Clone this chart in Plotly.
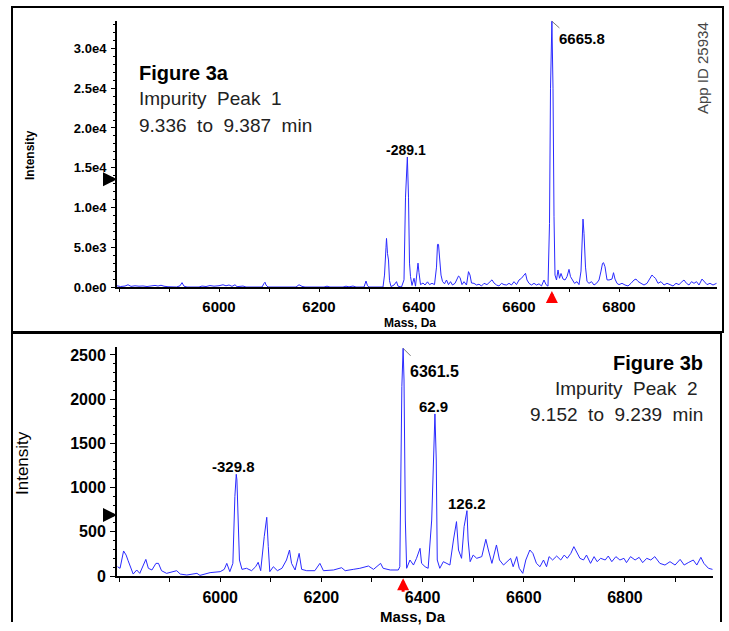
import plotly.graph_objects as go

# ---------------- data ----------------
mass_a = [5796, 5803, 5812, 5818, 5824, 5832, 5840, 5848, 5856, 5864, 5872, 5878, 5884, 5890, 5898,
          5915, 5922, 5926, 5930, 5936, 5960, 5966, 5974, 5982, 5990, 6000, 6008, 6014, 6020, 6026,
          6032, 6036, 6048, 6054, 6086, 6090, 6092, 6094, 6098, 6154, 6160, 6166, 6172, 6210, 6216,
          6222, 6248, 6254, 6260, 6268, 6274, 6290, 6292, 6294, 6297, 6300, 6328, 6331, 6334, 6335,
          6337, 6339, 6341, 6344, 6350, 6355, 6358, 6365, 6370, 6373, 6376.7, 6379, 6381, 6383, 6386,
          6390, 6393, 6396, 6398, 6400, 6403, 6408, 6412, 6417, 6421, 6426, 6431, 6435, 6437, 6439,
          6441, 6444, 6447, 6451, 6455, 6459, 6463, 6467, 6472, 6476, 6479, 6482, 6486, 6490, 6495,
          6499, 6502, 6505, 6510, 6515, 6520, 6525, 6530, 6536, 6542, 6546, 6550, 6555, 6560, 6565,
          6570, 6575, 6580, 6585, 6590, 6595, 6600, 6605, 6610, 6613, 6616, 6620, 6625, 6630, 6635,
          6640, 6645, 6650, 6654, 6658, 6661, 6663, 6665.8, 6668, 6670, 6672, 6675, 6678, 6681, 6684,
          6688, 6692, 6696, 6700, 6703, 6707, 6711, 6716, 6720, 6724, 6726, 6728, 6730, 6733, 6736,
          6740, 6745, 6750, 6755, 6760, 6764, 6767, 6769, 6772, 6776, 6780, 6786, 6789, 6792, 6796,
          6800, 6806, 6812, 6818, 6824, 6830, 6834, 6838, 6844, 6850, 6856, 6862, 6866, 6869, 6873,
          6878, 6884, 6890, 6896, 6902, 6908, 6914, 6920, 6926, 6930, 6935, 6940, 6945, 6950, 6955,
          6960, 6966, 6970, 6976, 6982, 6988, 6995]
intensity_a = [150, 60, 120, 280, 80, 150, 100, 130, 60, 150, 200, 120, 220, 100, 30,
               0, 150, 550, 100, 0, 0, 120, 60, 180, 100, 160, 280, 150, 250, 80,
               280, 40, 120, 0, 0, 450, 600, 250, 0, 0, 280, 80, 0, 0, 100,
               0, 0, 100, 20, 120, 0, 0, 600, 750, 150, 0, 0, 1500, 5000, 6110,
               4200, 3400, 800, 50, 250, 670, 100, 0, 900, 11300, 16350, 11300, 3000, 1300, 200,
               1100, 100, 1500, 3000, 1800, 300, 500, 250, 650, 300, 460, 300, 2500, 5360, 5360,
               3400, 1500, 700, 400, 880, 300, 670, 250, 460, 1100, 1380, 1200, 300, 670, 250,
               1930, 1500, 500, 460, 250, 350, 130, 460, 300, 700, 900, 500, 250, 130, 460,
               300, 250, 460, 250, 670, 300, 880, 1100, 1500, 1720, 880, 460, 250, 460, 250,
               400, 130, 880, 300, 100, 8000, 25000, 33420, 25000, 8830, 1500, 880, 2140, 1100, 1700,
               1000, 880, 1300, 2220, 1300, 880, 460, 670, 300, 2000, 6740, 8540, 6740, 2500, 700,
               460, 670, 250, 460, 880, 2000, 2970, 3060, 2550, 900, 880, 1000, 1800, 1000, 460,
               300, 460, 250, 130, 460, 880, 1000, 700, 460, 250, 460, 1000, 1510, 1300, 1090,
               460, 670, 250, 460, 300, 130, 460, 300, 670, 880, 460, 250, 670, 460, 670,
               250, 1000, 700, 300, 460, 250, 460]

mass_b = [5797, 5802, 5809, 5814, 5818, 5822, 5828, 5835, 5841, 5853, 5858, 5865, 5873, 5878, 5884,
          5894, 5904, 5914, 5921, 5934, 5954, 5960, 5980, 6000, 6008, 6013, 6019, 6025, 6029, 6031.7,
          6033, 6035, 6038, 6043, 6052, 6062, 6070, 6075, 6080, 6087, 6092, 6095, 6098, 6105, 6113,
          6122, 6131, 6137, 6141, 6148, 6156, 6161, 6171, 6187, 6197, 6204, 6224, 6240, 6247, 6263,
          6276, 6293, 6303, 6317, 6322, 6336, 6352, 6355, 6359, 6361.5, 6363.3, 6365.9, 6368.5, 6375, 6382,
          6388, 6395, 6398, 6405, 6411, 6418, 6424.4, 6427, 6429, 6434, 6441, 6448, 6454, 6461, 6467,
          6471, 6477, 6482, 6487.7, 6490, 6494, 6500, 6507, 6517, 6525, 6530, 6537, 6546, 6552, 6560,
          6566, 6574, 6579, 6586, 6591, 6598, 6604, 6612, 6618, 6625, 6632, 6639, 6645, 6650, 6657,
          6665, 6673, 6680, 6686, 6693, 6699, 6705, 6711, 6718, 6724, 6732, 6739, 6745, 6752, 6761,
          6767, 6774, 6782, 6790, 6798, 6803, 6811, 6820, 6828, 6835, 6843, 6851, 6859, 6869, 6879,
          6889, 6899, 6909, 6917, 6925, 6935, 6942, 6950, 6956, 6965, 6973]
intensity_b = [105, 87, 283, 237, 173, 105, 22, 68, 30, 188, 87, 68, 143, 143, 60,
               30, 49, 60, 22, 11, 30, 7, 38, 49, 75, 143, 49, 143, 900, 1150,
               1086, 709, 181, 75, 87, 60, 105, 155, 60, 445, 664, 332, 49, 105, 60,
               87, 181, 294, 143, 68, 256, 75, 60, 60, 143, 60, 68, 94, 60, 75,
               87, 113, 75, 143, 87, 68, 68, 105, 2142, 2575, 2217, 633, 87, 181, 124,
               200, 313, 143, 105, 87, 633, 1833, 1312, 181, 87, 162, 143, 124, 407, 615,
               294, 200, 558, 739, 407, 162, 237, 200, 219, 415, 294, 143, 351, 181, 124,
               162, 200, 105, 219, 87, 30, 181, 294, 256, 143, 105, 181, 105, 219, 181,
               226, 181, 237, 200, 256, 332, 256, 200, 181, 237, 143, 219, 162, 200, 181,
               226, 162, 219, 181, 200, 151, 219, 181, 211, 151, 200, 181, 219, 143, 124,
               162, 124, 188, 124, 151, 181, 124, 211, 143, 87, 75]

labels_a_mass = [6376.7]
labels_a_int = [16350]
labels_a_text = ["-289.1"]
main_a_mass, main_a_int, main_a_text = 6665.8, 33420, "6665.8"
labels_b_mass = [6031.7, 6424.4, 6487.7]
labels_b_int = [1150, 1833, 739]
labels_b_text = ["-329.8", "62.9", "126.2"]
labels_b_xshift = [-3, -1, 0]
main_b_mass, main_b_int, main_b_text = 6361.5, 2575, "6361.5"

threshold_a = 13560
threshold_b = 690

mass_ticks = [5800, 5900, 6000, 6100, 6200, 6300, 6400, 6500, 6600, 6700, 6800, 6900]
mass_ticktext = ["", "", "6000", "", "6200", "", "6400", "", "6600", "", "6800", ""]
int_ticks_a = [0, 5000, 10000, 15000, 20000, 25000, 30000]
int_ticktext_a = ["0.0e0", "5.0e3", "1.0e4", "1.5e4", "2.0e4", "2.5e4", "3.0e4"]
int_ticks_b = [0, 500, 1000, 1500, 2000, 2500]
int_ticktext_b = ["0", "500", "1000", "1500", "2000", "2500"]

# ---------------- figure ----------------
W, H = 729, 631
# the rendered page maps the figure's height onto ~622 picture rows, so vertical
# layout positions (given in picture pixels) are expressed against that span
H_EFF = 622
BLUE = "#2a2aff"
FONT = "Liberation Sans, Arial, sans-serif"


def px(x):
    return x / W


def py(y):
    return 1 - y / H_EFF


fig = go.Figure()
fig.add_trace(go.Scatter(x=mass_a, y=intensity_a, mode="lines", line=dict(color=BLUE, width=1),
                         xaxis="x", yaxis="y", showlegend=False, hoverinfo="skip"))
fig.add_trace(go.Scatter(x=mass_b, y=intensity_b, mode="lines", line=dict(color=BLUE, width=1),
                         xaxis="x2", yaxis="y2", showlegend=False, hoverinfo="skip"))

common_x = dict(showline=True, linecolor="black", linewidth=2, ticks="outside", tickcolor="black",
                tickwidth=1, tickmode="array", tickvals=mass_ticks, ticktext=mass_ticktext,
                showgrid=False, zeroline=False, fixedrange=True)
common_y = dict(showline=True, linecolor="black", linewidth=2, ticks="outside", tickcolor="black",
                tickwidth=1, tickmode="array", showgrid=False, zeroline=False, fixedrange=True)

fig.update_layout(
    width=W, height=H, margin=dict(l=0, r=0, t=0, b=0), autosize=False,
    paper_bgcolor="white", plot_bgcolor="white",
    font=dict(family=FONT, color="black"),
    xaxis=dict(common_x, domain=[px(117), px(717)], range=[5796, 6996], anchor="y", ticklen=3,
               tickfont=dict(size=15, weight="bold", family=FONT), ticklabelstandoff=2),
    yaxis=dict(common_y, domain=[py(287), py(21)], range=[0, 33450], anchor="x", ticklen=4,
               tickvals=int_ticks_a, ticktext=int_ticktext_a,
               tickfont=dict(size=13, weight="bold", family=FONT), ticklabelstandoff=2,
               minor=dict(ticks="outside", ticklen=2, dtick=1000, tickcolor="black", showgrid=False)),
    xaxis2=dict(common_x, domain=[px(117), px(713)], range=[5796, 6974], anchor="y2", ticklen=4,
                tickfont=dict(size=16, weight="bold", family=FONT), ticklabelstandoff=2),
    yaxis2=dict(common_y, domain=[py(576), py(347)], range=[0, 2590], anchor="x2", ticklen=5,
                tickvals=int_ticks_b, ticktext=int_ticktext_b,
                tickfont=dict(size=16, weight="bold", family=FONT), ticklabelstandoff=1,
                minor=dict(ticks="outside", ticklen=2, dtick=100, tickcolor="black", showgrid=False)),
)

# Panel frames (bottom panel is open at the foot of the picture)
fig.add_shape(type="rect", xref="paper", yref="paper", x0=px(12), x1=px(723), y0=py(332), y1=py(7),
              line=dict(color="black", width=2))
fig.add_shape(type="path", xref="paper", yref="paper",
              path=f"M {px(12)},0 L {px(12)},{py(333)} L {px(721)},{py(333)} L {px(721)},0",
              line=dict(color="black", width=2))

ann = []


def paper_text(text, x, y, size, xanchor="center", yanchor="middle", angle=0, color="black"):
    ann.append(dict(text=text, xref="paper", yref="paper", x=px(x), y=py(y), xanchor=xanchor,
                    yanchor=yanchor, showarrow=False, textangle=angle,
                    font=dict(size=size, color=color)))


paper_text("<b>Mass, Da</b>", 410, 323, 12)
paper_text("<b>Mass, Da</b>", 413, 616, 15)
paper_text("<b>Intensity</b>", 30, 155, 12, angle=-90)
paper_text("Intensity", 22, 463, 17, angle=-90)

NB = "\u00a0"
paper_text("<b>Figure 3a</b>", 137, 73, 20, xanchor="left")
paper_text(f"Impurity{NB} Peak{NB} 1", 137, 99, 19, xanchor="left", color="#222")
paper_text(f"9.336{NB} to{NB} 9.387{NB} min", 137, 125, 19, xanchor="left", color="#222")
paper_text("<b>Figure 3b</b>", 705, 363, 20, xanchor="right")
paper_text(f"Impurity{NB} Peak{NB} 2{NB}", 705, 388, 19, xanchor="right", color="#222")
paper_text(f"9.152{NB} to{NB} 9.239{NB} min", 705, 414, 19, xanchor="right", color="#222")
paper_text("App ID 25934", 702, 68, 15, angle=-90, color="#444")

for m, v, t in zip(labels_a_mass, labels_a_int, labels_a_text):
    ann.append(dict(text=f"<b>{t}</b>", x=m, y=v, xref="x", yref="y", showarrow=False,
                    xanchor="center", yanchor="bottom", xshift=-1, yshift=-3, font=dict(size=14)))
ann.append(dict(text="", x=main_a_mass, y=main_a_int, xref="x", yref="y", showarrow=True,
                arrowhead=0, arrowwidth=0.8, arrowcolor="#555", ax=9, ay=8, standoff=0))
ann.append(dict(text=f"<b>{main_a_text}</b>", x=main_a_mass, y=main_a_int, xref="x", yref="y",
                showarrow=False, xanchor="left", yanchor="top", xshift=5, yshift=-7, font=dict(size=15)))

for m, v, t, xs in zip(labels_b_mass, labels_b_int, labels_b_text, labels_b_xshift):
    ann.append(dict(text=f"<b>{t}</b>", x=m, y=v, xref="x2", yref="y2", showarrow=False,
                    xanchor="center", yanchor="bottom", xshift=xs, yshift=-3, font=dict(size=15)))
ann.append(dict(text="", x=main_b_mass, y=main_b_int, xref="x2", yref="y2", showarrow=True,
                arrowhead=0, arrowwidth=0.8, arrowcolor="#555", ax=9, ay=9, standoff=0))
ann.append(dict(text=f"<b>{main_b_text}</b>", x=main_b_mass, y=main_b_int, xref="x2", yref="y2",
                showarrow=False, xanchor="left", yanchor="top", xshift=5, yshift=-13, font=dict(size=16)))

ann.append(dict(text="", x=0, y=threshold_a, xref="x domain", yref="y", showarrow=True,
                arrowhead=2, arrowsize=0.7, arrowwidth=4, arrowcolor="black", ax=-13, ay=0, standoff=0))
ann.append(dict(text="", x=0, y=threshold_b, xref="x2 domain", yref="y2", showarrow=True,
                arrowhead=2, arrowsize=0.7, arrowwidth=4, arrowcolor="black", ax=-14, ay=0, standoff=0))

ann.append(dict(text="", x=main_a_mass, y=-0.015, xref="x", yref="y domain", showarrow=True,
                arrowhead=2, arrowsize=0.8, arrowwidth=3, arrowcolor="red", ax=0, ay=13, standoff=0))
ann.append(dict(text="", x=main_b_mass, y=-0.01, xref="x2", yref="y2 domain", showarrow=True,
                arrowhead=2, arrowsize=0.8, arrowwidth=3, arrowcolor="red", ax=0, ay=15, standoff=0))

fig.update_layout(annotations=ann)

fig.write_html("out.html", config={"displayModeBar": False},
               post_script="document.body.style.margin='0';document.body.style.overflow='hidden';")
